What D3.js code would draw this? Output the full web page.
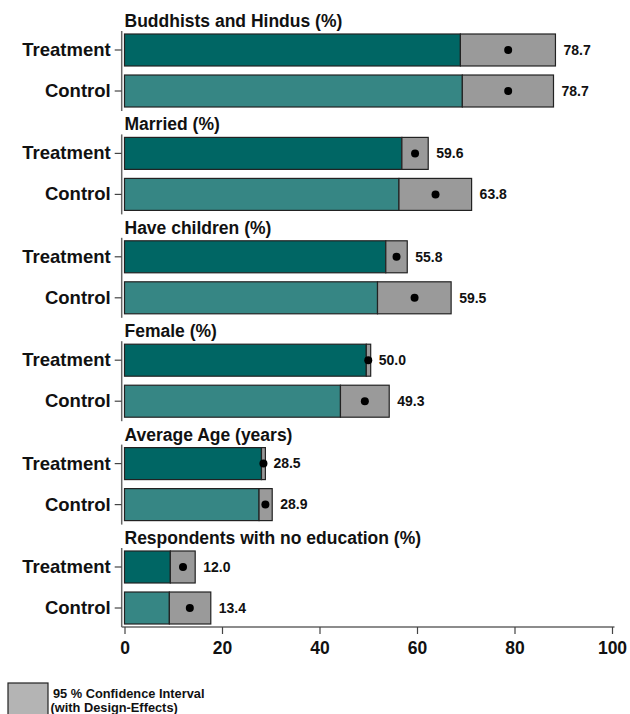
<!DOCTYPE html>
<html>
<head>
<meta charset="utf-8">
<script src="https://cdn.jsdelivr.net/npm/d3@7"></script>
<style>
  body { margin: 0; background: #fff; }
  svg { font-family: "Liberation Sans", Arial, sans-serif; font-weight: bold; }
</style>
</head>
<body>
<svg class="ci" width="630" height="714"></svg>
<script>
// panel titles and groups
const titles = ['Buddhists and Hindus (%)', 'Married (%)', 'Have children (%)', 'Female (%)', 'Average Age (years)', 'Respondents with no education (%)']
const groups = ['Treatment', 'Control']

// point estimates and 95% CI bounds
const treatMean = [78.7, 59.6, 55.8, 50.0, 28.5, 12.0]
const treatLow = [68.9, 56.9, 53.6, 49.6, 28.1, 9.4]
const treatHigh = [88.4, 62.3, 58.0, 50.5, 28.9, 14.5]
const ctrlMean = [78.7, 63.8, 59.5, 49.3, 28.9, 13.4]
const ctrlLow = [69.3, 56.3, 51.9, 44.3, 27.6, 9.2]
const ctrlHigh = [88.0, 71.2, 67.0, 54.3, 30.3, 17.7]

const xTicks = [0, 20, 40, 60, 80, 100]

const svg = d3.select('.ci')
const margin = { top: 10, left: 124.5, right: 18, bottom: 87 }
const width = +svg.attr('width')
const height = +svg.attr('height')
const colors = { Treatment: '#006664', Control: '#368684' }

const rows = titles.map((t, i) => ({
    title: t,
    bars: [
        { g: 'Treatment', mean: treatMean[i], lo: treatLow[i], hi: treatHigh[i] },
        { g: 'Control', mean: ctrlMean[i], lo: ctrlLow[i], hi: ctrlHigh[i] }
    ]
}))

const xscale = d3.scaleLinear().domain([0, 100]).range([margin.left, width - margin.right])
const panel = d3.scaleBand().domain(titles).range([margin.top, margin.top + 103.4 * titles.length])
const titleH = 24
const inner = d3.scaleBand().domain(groups).range([titleH, titleH + 73]).paddingInner(0.22)
const axisX = margin.left - 2.8
const axisY = 627

rows.forEach((row, i) => {
    const g = svg.append('g').attr('transform', `translate(0,${panel(row.title)})`)

    g.append('text')
        .attr('x', margin.left)
        .attr('y', titleH - 7)
        .attr('font-size', 17.5)
        .attr('fill', '#111')
        .text(row.title)

    // left axis for this panel
    const top = inner('Treatment') - 3
    const bottom = i === rows.length - 1 ? axisY - panel(row.title) : inner('Control') + inner.bandwidth() + 4
    g.append('line')
        .attr('x1', axisX).attr('x2', axisX)
        .attr('y1', top).attr('y2', bottom)
        .attr('stroke', '#666').attr('stroke-width', 1.5)

    const yAxis = d3.axisLeft(inner).tickSize(7).tickPadding(4).tickSizeOuter(0)
    const ya = g.append('g').attr('transform', `translate(${axisX},0)`).call(yAxis)
    ya.select('.domain').remove()
    ya.selectAll('line').attr('stroke', '#444').attr('stroke-width', 1.2)
    ya.selectAll('text').attr('font-size', 18.5).attr('fill', '#111')

    const b = g.selectAll('.bar').data(row.bars).enter().append('g')

    b.append('rect')
        .attr('x', xscale(0))
        .attr('y', d => inner(d.g))
        .attr('width', d => xscale(d.lo) - xscale(0))
        .attr('height', inner.bandwidth())
        .attr('fill', d => colors[d.g])
        .attr('stroke', '#222').attr('stroke-width', 1.2)

    b.append('rect')
        .attr('x', d => xscale(d.lo))
        .attr('y', d => inner(d.g))
        .attr('width', d => xscale(d.hi) - xscale(d.lo))
        .attr('height', inner.bandwidth())
        .attr('fill', '#9a9a9a')
        .attr('stroke', '#222').attr('stroke-width', 1.2)

    b.append('circle')
        .attr('cx', d => xscale(d.mean))
        .attr('cy', d => inner(d.g) + inner.bandwidth() / 2)
        .attr('r', 4)
        .attr('fill', '#000')

    b.append('text')
        .attr('x', d => xscale(d.hi) + 8)
        .attr('y', d => inner(d.g) + inner.bandwidth() / 2)
        .attr('dy', '0.35em')
        .attr('font-size', 14)
        .attr('fill', '#111')
        .text(d => d.mean.toFixed(1))
})

// bottom axis
svg.append('line')
    .attr('x1', axisX).attr('x2', xscale(100) + 2.5)
    .attr('y1', axisY).attr('y2', axisY)
    .attr('stroke', '#666').attr('stroke-width', 1.5)

const xAxis = d3.axisBottom(xscale).tickValues(xTicks).tickSize(7).tickPadding(8).tickSizeOuter(0)
const xa = svg.append('g').attr('transform', `translate(0,${axisY})`).call(xAxis)
xa.select('.domain').remove()
xa.selectAll('line').attr('stroke', '#444').attr('stroke-width', 1.2)
xa.selectAll('text').attr('font-size', 17.5).attr('fill', '#111')

// legend
const lg = svg.append('g')
lg.append('rect')
    .attr('x', 8).attr('y', 683)
    .attr('width', 40).attr('height', 40)
    .attr('fill', '#b4b4b4').attr('stroke', '#222').attr('stroke-width', 1.2)
lg.append('text').attr('x', 53).attr('y', 697.5).attr('font-size', 12.8).attr('fill', '#111').text('95 % Confidence Interval')
lg.append('text').attr('x', 50.5).attr('y', 712).attr('font-size', 12.8).attr('fill', '#111').text('(with Design-Effects)')
</script>
</body>
</html>
